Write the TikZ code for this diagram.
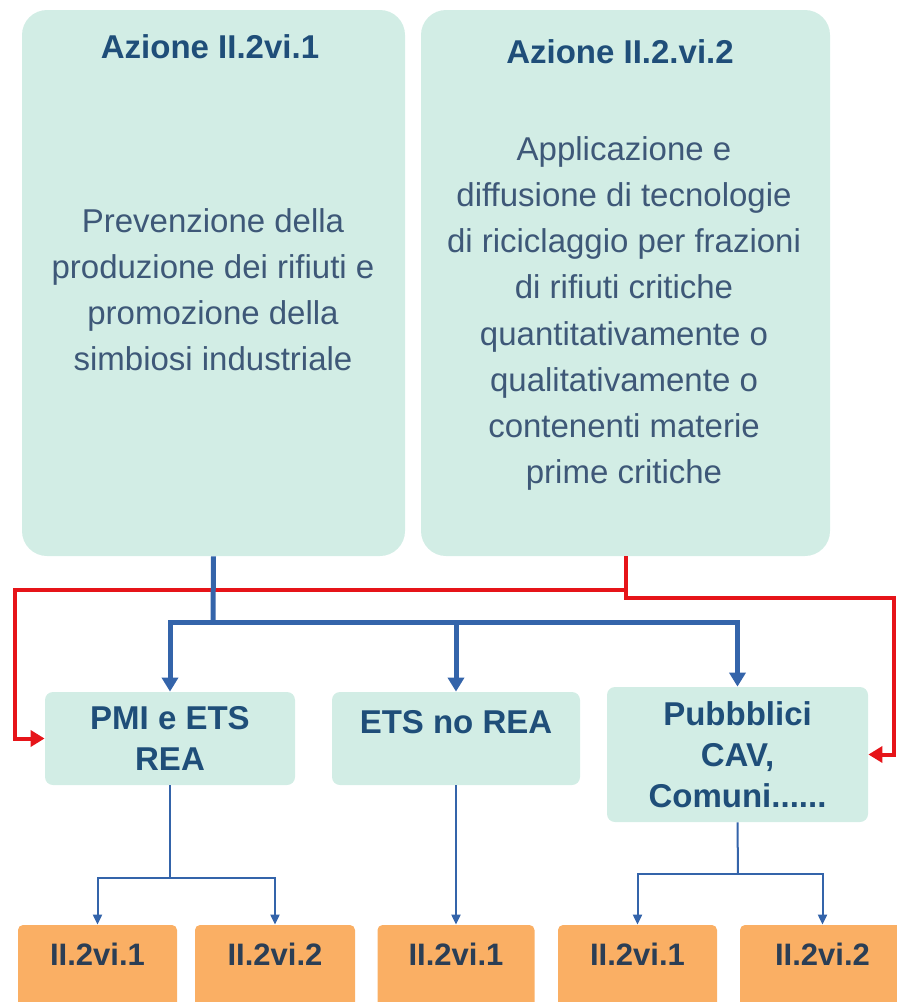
\documentclass[tikz,border=0pt]{standalone}
\usepackage{xcolor}
\usepackage{fontspec}
\setmainfont{Liberation Sans}
\usepackage{tikz}
\usetikzlibrary{arrows.meta}

\definecolor{mintbox}{RGB}{210,237,229}
\definecolor{titleblue}{RGB}{31,78,121}
\definecolor{bodyblue}{RGB}{62,88,120}
\definecolor{codeorange}{RGB}{250,175,100}
\definecolor{codetext}{RGB}{43,62,85}
\definecolor{lineblue}{RGB}{52,100,170}
\definecolor{linered}{RGB}{230,20,25}

\begin{document}
\begin{tikzpicture}[x=0.5pt,y=-0.5pt]
        % Define styles
        \tikzset{
            azione/.style={rectangle, rounded corners=12.5pt, fill=mintbox, minimum height=273pt, inner sep=0pt},
            title/.style={anchor=base, inner sep=0pt, text=titleblue, font=\fontsize{16.5}{21}\selectfont\bfseries},
            body/.style={anchor=north, align=center, inner sep=0pt, text=bodyblue, font=\fontsize{16.5}{23.1}\selectfont},
            target/.style={rectangle, rounded corners=4pt, fill=mintbox, align=center, inner sep=0pt, text=titleblue, font=\fontsize{16.5}{20.5}\selectfont\bfseries},
            code/.style={rectangle, rounded corners=2.5pt, fill=codeorange, anchor=base, inner sep=0pt, text height=20pt, text depth=25pt, text=codetext, font=\fontsize{15.5}{18}\selectfont\bfseries},
            bluebar/.style={draw=lineblue, line width=2.5pt},
            bluearrow/.style={bluebar, -{Triangle[width=8pt,length=7pt]}},
            redarrow/.style={draw=linered, line width=2pt, -{Triangle[width=8pt,length=7pt]}},
            bluethin/.style={draw=lineblue, line width=1pt},
            thinarrow/.style={bluethin, -{Triangle[width=4.5pt,length=5pt]}}
        }

        \useasboundingbox (0,0) rectangle (897,1002);
        \clip (0,0) rectangle (897,1002);

        % Nodes
        \node[azione, minimum width=191.5pt] (azione_node_1) at (213.5,283) {};
        \node[azione, minimum width=204.5pt] (azione_node_2) at (625.5,283) {};
        \node[title] (title_node_1) at (210,58) {Azione II.2vi.1};
        \node[title] (title_node_2) at (620,63) {Azione II.2.vi.2};
        \node[body] (body_node_1) at (213,208) {Prevenzione della\\produzione dei rifiuti e\\promozione della\\simbiosi industriale};
        \node[body] (body_node_2) at (624,136) {Applicazione e\\diffusione di tecnologie\\di riciclaggio per frazioni\\di rifiuti critiche\\quantitativamente o\\qualitativamente o\\contenenti materie\\prime critiche};

        \node[target, minimum width=125pt, minimum height=46.5pt] (target_node_1) at (170,738.5) {PMI e ETS\\REA};
        \node[target, anchor=base, text height=20.5pt, text depth=26pt] (target_node_2) at (456,733) {\makebox[124pt]{ETS no REA}};
        \node[target, minimum width=130.5pt, minimum height=67.5pt] (target_node_3) at (737.5,754.5) {Pubbblici\\CAV,\\Comuni......};

        \node[code] (code_node_1) at (97.5,965) {\makebox[79.5pt]{II.2vi.1}};
        \node[code] (code_node_2) at (275,965) {\makebox[80pt]{II.2vi.2}};
        \node[code] (code_node_3) at (456,965) {\makebox[78.5pt]{II.2vi.1}};
        \node[code] (code_node_4) at (637.5,965) {\makebox[79.5pt]{II.2vi.1}};
        \node[code] (code_node_5) at (822.5,965) {\makebox[82.5pt]{II.2vi.2}};

        % Arrows
        \coordinate (turn_left) at (15,590);
        \coordinate (turn_right) at (894,598);
        \draw[redarrow] (azione_node_2.south) |- (turn_left) |- (target_node_1.west);
        \draw[redarrow] (azione_node_2.south) |- (turn_right) |- (target_node_3.east);

        \coordinate (split_azione_1) at (213,622);
        \draw[bluebar] (azione_node_1.south) -- (split_azione_1);
        \draw[bluearrow] (split_azione_1) -| (target_node_1.north);
        \draw[bluearrow] (split_azione_1) -| (target_node_2.north);
        \draw[bluearrow] (split_azione_1) -| (target_node_3.north);

        \coordinate (split_target_1) at (170,878);
        \draw[bluethin] (target_node_1.south) -- (split_target_1);
        \draw[thinarrow] (split_target_1) -| (code_node_1.north);
        \draw[thinarrow] (split_target_1) -| (code_node_2.north);
        \draw[thinarrow] (target_node_2.south) -- (code_node_3.north);
        \coordinate (split_target_3) at (738,874);
        \draw[bluethin] (target_node_3.south) -- (split_target_3);
        \draw[thinarrow] (split_target_3) -| (code_node_4.north);
        \draw[thinarrow] (split_target_3) -| (code_node_5.north);
    \end{tikzpicture}
\end{document}
